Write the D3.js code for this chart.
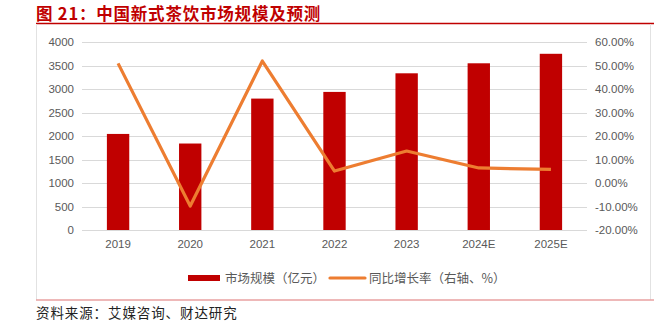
<!DOCTYPE html>
<html><head><meta charset="utf-8">
<script src="https://cdn.jsdelivr.net/npm/d3@7"></script>
<style>html,body{margin:0;padding:0;background:#fff;}svg{display:block;}</style>
</head><body>
<svg id="c" width="654" height="322"></svg>
<script>
const categories = ["2019","2020","2021","2022","2023","2024E","2025E"];
const marketSize = [2044, 1840, 2796, 2938, 3334, 3547, 3749];
const growthPct = [50.9, -9.8, 51.9, 5.1, 13.6, 6.4, 5.8];
const leftTicks = [0,500,1000,1500,2000,2500,3000,3500,4000];
const rightTicks = [-20,-10,0,10,20,30,40,50,60];
const titleText = "图 21：中国新式茶饮市场规模及预测";
const sourceText = "资料来源：艾媒咨询、财达研究";
const legendLabels = ["市场规模（亿元）","同比增长率（右轴、%）"];

(function(){
const svg = d3.select("#c");
const font = "'Noto Sans CJK SC','Microsoft YaHei',sans-serif";
const pL = 82, pR = 587, pT = 42, pB = 230;

// frame
svg.append("text").attr("x",36).attr("y",19.5).attr("fill","#C00000")
  .attr("font-family",font).attr("font-weight","bold").attr("font-size",16.5).attr("letter-spacing",0.8).text(titleText);
svg.append("line").attr("x1",36).attr("x2",654).attr("y1",23.5).attr("y2",23.5)
  .attr("stroke","#C00000").attr("stroke-width",1.3);
svg.append("line").attr("x1",36.5).attr("x2",36.5).attr("y1",24).attr("y2",300)
  .attr("stroke","#e2e2e2").attr("stroke-width",1);
svg.append("line").attr("x1",650.5).attr("x2",650.5).attr("y1",24).attr("y2",300)
  .attr("stroke","#e2e2e2").attr("stroke-width",1);
svg.append("line").attr("x1",36).attr("x2",654).attr("y1",300).attr("y2",300)
  .attr("stroke","#e8a0a0").attr("stroke-width",1.3);
svg.append("text").attr("x",36).attr("y",318).attr("fill","#222")
  .attr("font-family",font).attr("font-size",13.5).attr("letter-spacing",0.9).text(sourceText);

const x = d3.scaleBand().domain(categories).range([pL,pR]).paddingInner(0.69).paddingOuter(0.345);
const y = d3.scaleLinear().domain([0,4000]).range([pB,pT]);
const y2 = d3.scaleLinear().domain([-20,60]).range([pB,pT]);

// gridlines
svg.append("g").selectAll("line").data(leftTicks).join("line")
  .attr("x1",pL).attr("x2",pR).attr("y1",d=>Math.round(y(d))+0.5).attr("y2",d=>Math.round(y(d))+0.5)
  .attr("stroke","#d9d9d9").attr("stroke-width",1);

const axFont = "'Liberation Sans',Arial,sans-serif";
// left axis
const ga = svg.append("g").attr("transform",`translate(${pL-8},0)`)
  .call(d3.axisLeft(y).tickValues(leftTicks).tickSize(0).tickPadding(0).tickFormat(d3.format("d")));
ga.select(".domain").remove();
ga.selectAll("text").attr("fill","#595959").attr("font-size",11.5).attr("font-family",axFont);

// right axis
const gr = svg.append("g").attr("transform",`translate(${pR+8},0)`)
  .call(d3.axisRight(y2).tickValues(rightTicks).tickSize(0).tickPadding(0).tickFormat(d=>d.toFixed(2)+"%"));
gr.select(".domain").remove();
gr.selectAll("text").attr("fill","#595959").attr("font-size",11.5).attr("font-family",axFont);

// x axis
const gx = svg.append("g").attr("transform",`translate(0,${pB+8})`)
  .call(d3.axisBottom(x).tickSize(0).tickPadding(0));
gx.select(".domain").remove();
gx.selectAll("text").attr("fill","#595959").attr("font-size",11.5).attr("font-family",axFont).attr("dy","0.9em");

// bars
svg.append("g").selectAll("rect").data(marketSize).join("rect")
  .attr("x",(d,i)=>x(categories[i])).attr("width",x.bandwidth())
  .attr("y",d=>y(d)).attr("height",d=>pB-y(d)).attr("fill","#C00000");

// line
const line = d3.line().x((d,i)=>x(categories[i])+x.bandwidth()/2).y(d=>y2(d));
svg.append("path").datum(growthPct).attr("d",line).attr("fill","none")
  .attr("stroke","#ED7D31").attr("stroke-width",3.2).attr("stroke-linejoin","round");

// legend
const lg = svg.append("g");
lg.append("rect").attr("x",188).attr("y",275).attr("width",32).attr("height",6).attr("fill","#C00000");
lg.append("text").attr("x",225).attr("y",282.5).attr("fill","#595959").attr("font-family",font).attr("font-size",12.5).text(legendLabels[0]);
lg.append("line").attr("x1",330).attr("x2",365).attr("y1",278).attr("y2",278).attr("stroke","#ED7D31").attr("stroke-width",3.2).attr("stroke-linecap","round");
lg.append("text").attr("x",369).attr("y",282.5).attr("fill","#595959").attr("font-family",font).attr("font-size",12.5).text(legendLabels[1]);
})();
</script>
</body></html>
